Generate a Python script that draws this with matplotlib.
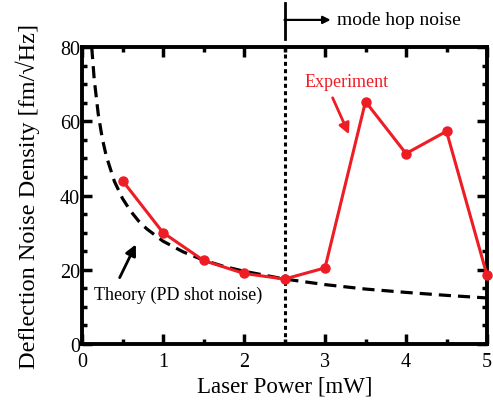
import matplotlib
matplotlib.use("Agg")
import matplotlib.pyplot as plt
from matplotlib.ticker import MultipleLocator, FixedLocator

plt.rcParams['font.family'] = ['Liberation Serif', 'DejaVu Serif']

# Experiment data
exp_power = [0.5, 1.0, 1.5, 2.0, 2.5, 3.0, 3.5, 4.0, 4.5, 5.0]
exp_noise = [44.0, 30.0, 22.5, 19.0, 17.5, 20.5, 65.3, 51.3, 57.3, 18.5]

# Theory curve (PD shot noise)
theory_power = [0.12, 0.15, 0.2, 0.25, 0.3, 0.4, 0.5, 0.6, 0.7, 0.8, 1.0, 1.25,
                1.5, 1.75, 2.0, 2.5, 3.0, 3.5, 4.0, 4.5, 5.0]
theory_noise = [80.0, 71.5, 62.0, 55.4, 50.6, 43.8, 39.2, 35.8, 33.1, 31.0, 27.7, 24.8,
                22.6, 20.9, 19.6, 17.5, 16.0, 14.8, 13.9, 13.1, 12.4]

mode_hop_power = 2.5
x_ticks = [0, 1, 2, 3, 4, 5]
y_ticks = [0, 20, 40, 60, 80]

red = '#ee1c24'

fig = plt.figure(figsize=(4.93, 4.02), dpi=100)
ax = fig.add_axes([82/493, 1-345/402, (487-82)/493, (345-48)/402])

ax.plot(theory_power, theory_noise, color='black', lw=2.3, ls=(0, (3.8, 2.2)), zorder=2)
ax.plot(exp_power, exp_noise, color=red, lw=2.2, marker='o', ms=6.5, zorder=3, clip_on=False)
ax.axvline(mode_hop_power, color='black', lw=2.2, ls=(0, (1.3, 1.1)), zorder=1)

ax.set_xlim(0, 5)
ax.set_ylim(0, 80)
ax.xaxis.set_major_locator(FixedLocator(x_ticks))
ax.xaxis.set_minor_locator(MultipleLocator(0.5))
ax.yaxis.set_major_locator(FixedLocator(y_ticks))
ax.yaxis.set_minor_locator(MultipleLocator(5))
ax.tick_params(which='both', direction='in', top=True, right=True, width=2.5, labelsize=14.5)
ax.tick_params(which='major', length=7)
ax.tick_params(which='minor', length=3.5)
ax.tick_params(axis='x', which='major', pad=6)
ax.tick_params(axis='y', which='major', pad=1.5)
for s in ax.spines.values():
    s.set_linewidth(2.8)

ax.set_xlabel('Laser Power [mW]', fontsize=16.5, labelpad=3)
ax.set_ylabel('Deflection Noise Density [fm/\u221aHz]', fontsize=17.5, labelpad=14)

# annotations
ax.text(2.75, 70.6, 'Experiment', color=red, fontsize=13, ha='left', va='center')
ax.annotate('', xy=(3.31, 55.8), xytext=(3.08, 67.0),
            arrowprops=dict(arrowstyle='-|>', color=red, lw=2.0, mutation_scale=16))
ax.text(0.15, 13.5, 'Theory (PD shot noise)', color='black', fontsize=13, ha='left', va='center')
ax.annotate('', xy=(0.68, 27.5), xytext=(0.45, 17.2),
            arrowprops=dict(arrowstyle='-|>', color='black', lw=2.0, mutation_scale=16))

# mode hop marker above the axes
ax.plot([mode_hop_power, mode_hop_power], [82.2, 91.8], color='black', lw=2.0, clip_on=False)
ax.annotate('', xy=(3.07, 87.3), xytext=(mode_hop_power, 87.3), annotation_clip=False,
            arrowprops=dict(arrowstyle='-|>', color='black', lw=1.6, mutation_scale=11,
                            shrinkA=0, shrinkB=0))
ax.text(3.15, 87.5, 'mode hop noise', fontsize=14, ha='left', va='center', clip_on=False)

fig.savefig('out.png', dpi=100)
